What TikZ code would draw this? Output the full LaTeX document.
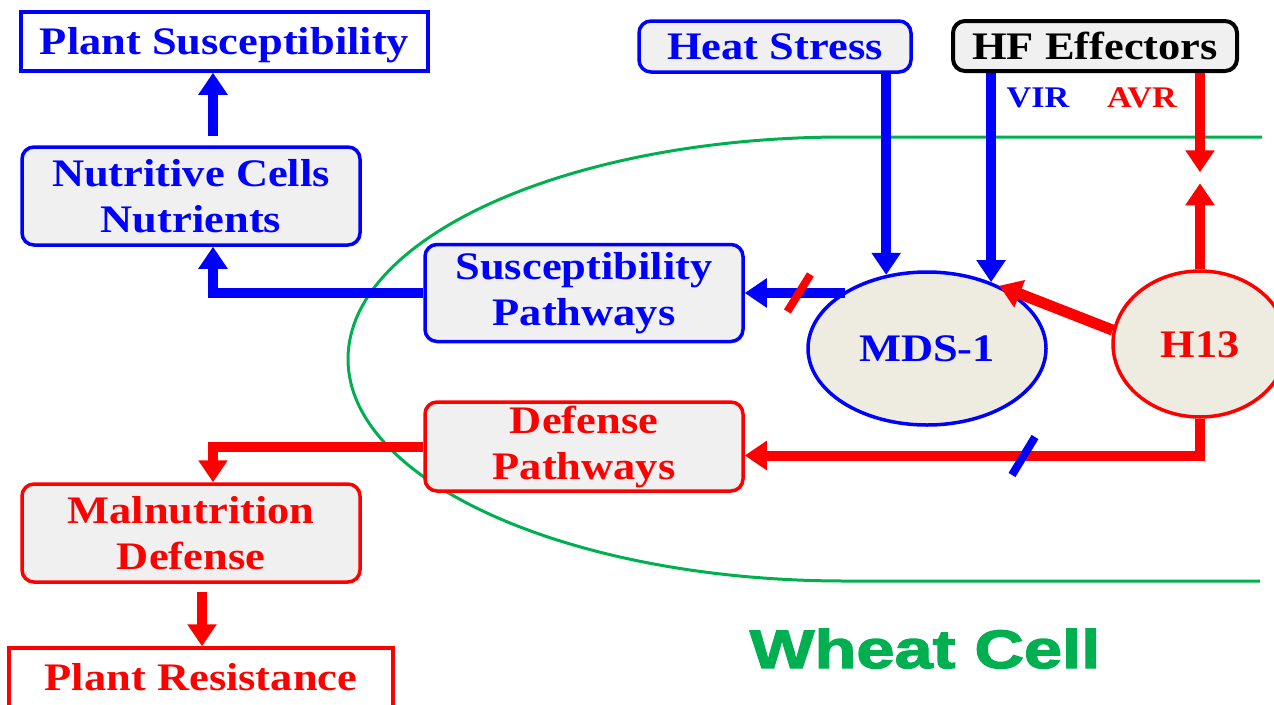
\documentclass[tikz,border=0pt]{standalone}
\usepackage{fontspec}
\setmainfont{Liberation Serif}[FakeStretch=1.14]
\newfontfamily\cellfont{Liberation Sans}[FakeStretch=1.27,BoldFeatures={FakeBold=2.5}]
\usetikzlibrary{shapes, arrows.meta, positioning, calc}

\definecolor{cellgreen}{HTML}{00B050}
\definecolor{boxgray}{HTML}{F0F0F0}
\definecolor{genefill}{HTML}{EEECE1}

\begin{document}
\begin{tikzpicture}[
			x=1pt, y=-1pt,
			>={Triangle[width=28pt,length=22pt]},
			lbl/.style={font=\fontsize{39}{46}\selectfont\bfseries, align=center, inner sep=0pt},
			oneline/.style={text height=26pt, text depth=0pt},
			outcome/.style={lbl, oneline, draw, rectangle, line width=3.5pt, fill=white},
			block/.style={lbl, draw, rounded corners=12pt, line width=3.5pt, fill=boxgray},
			gene/.style={lbl, oneline, draw, ellipse, line width=3.5pt, fill=genefill},
			effect/.style={font=\fontsize{30}{36}\selectfont\bfseries, inner sep=0pt, anchor=base},
			link/.style={->, line width=10pt},
			blocker/.style={line width=8pt}
			]
			\useasboundingbox (0,0) rectangle (1274,704);
			
			% --- Obrys komórki ---
			\draw[cellgreen, line width=3pt] (1262,137) -- (845,137)
				arc[start angle=90, end angle=270, x radius=497pt, y radius=222pt] -- (1260,581);
			\node[text=cellgreen, font={\cellfont\bfseries\fontsize{54}{60}\selectfont}, inner sep=0pt, anchor=base] (wcell) at (925,668) {Wheat Cell};
			
			% --- Węzły ---
			\node[outcome, draw=blue, text=blue, minimum width=407pt, minimum height=59pt] (psus) at (224.5,41.5) {Plant Susceptibility}; % wynik
			\node[block, draw=blue, text=blue, minimum width=338pt, minimum height=98pt] (nutri) at (191,196) {Nutritive Cells\\Nutrients};
			\node[block, draw=blue, text=blue, minimum width=318pt, minimum height=97pt] (spath) at (584,293) {Susceptibility\\Pathways};
			\node[block, draw=red, text=red, minimum width=318pt, minimum height=89pt, below=57pt of spath] (dpath) {Defense\\Pathways};
			\node[block, draw=red, text=red, minimum width=338pt, minimum height=98pt] (maln) at (191,533) {Malnutrition\\Defense};
			\node[outcome, draw=red, text=red, minimum width=384pt, minimum height=59pt] (pres) at (201,677.5) {Plant Resistance}; % wynik
			\node[block, oneline, draw=blue, text=blue, minimum width=272pt, minimum height=51pt] (heat) at (775,46.5) {Heat Stress};
			\node[block, oneline, draw=black, text=black, line width=4pt, minimum width=284pt, minimum height=50pt] (hf) at (1095,46) {HF Effectors};
			\node[gene, draw=blue, text=blue, minimum width=238pt, minimum height=153pt] (mds) at (927,348.5) {MDS-1};
			\node[gene, draw=red, text=red, minimum width=174pt, minimum height=146pt] (h13) at (1200,344) {H13};
			\node[effect, text=blue] (vir) at (1038,107) {VIR};
			\node[effect, text=red] (avr) at (1142,107) {AVR};
			
			% --- Punkty spotkania strzałek AVR ---
			\path (h13.north) ++(0,-86) coordinate (h13tip) ++(0,-11) coordinate (avrtip);
			
			% --- Strzałki ---
			\draw[link, blue] (heat.south -| mds.119) -- (mds.119);
			\draw[link, blue] (hf.south -| mds.46) -- (mds.46);
			\draw[link, red] (hf.south -| avrtip) -- (avrtip);
			\draw[link, red] (h13.north) -- (h13tip);
			\draw[->, red, line width=11pt] (h13.171) -- (mds.41);
			\draw[link, blue] (mds.145 |- spath.east) -- (spath.east);
			\draw[link, red] (h13.south) |- ($(dpath.east)+(0,9)$);
			\draw[link, blue] (spath.west) -| ([xshift=22pt]nutri.south);
			\draw[link, blue] ([xshift=22pt, yshift=9pt]nutri.north) -- ([xshift=22pt]nutri.north |- psus.south);
			\draw[link, red] (dpath.west) -| ([xshift=22pt]maln.north);
			\draw[link, red] ([xshift=11pt, yshift=-8pt]maln.south) -- ([xshift=11pt]maln.south |- pres.north);
			
			% --- Blokady ---
			\draw[blocker, red] ($(spath.east)!0.54!(mds.145 |- spath.east)$) ++(-11.5,18.5) -- ++(23,-37);
			\draw[blocker, blue] (1012,475) -- (1035,437);
			
		\end{tikzpicture}
\end{document}
